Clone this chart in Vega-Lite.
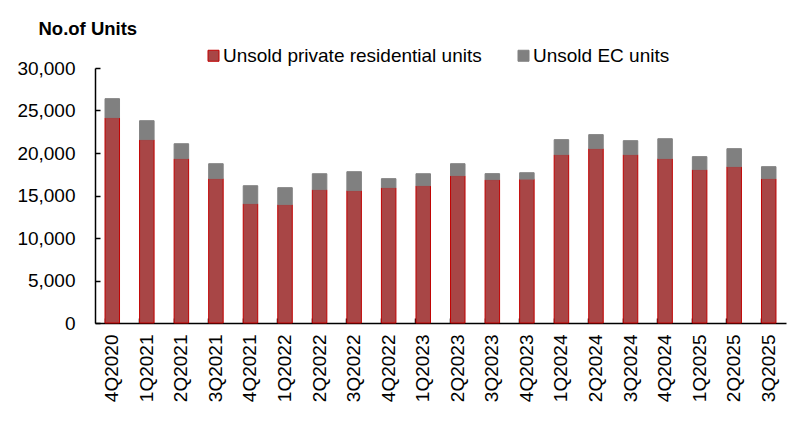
{
  "$schema": "https://vega.github.io/schema/vega-lite/v6.json",
  "width": 691,
  "height": 255,
  "autosize": "none",
  "padding": {"left": 95, "top": 68, "right": 19, "bottom": 106},
  "background": "white",
  "config": {
    "view": {"stroke": null},
    "font": "Liberation Sans",
    "axis": {"labelFont": "Liberation Sans", "titleFont": "Liberation Sans", "labelColor": "black", "domainColor": "black", "tickColor": "black", "grid": false}
  },
  "data": {
    "values": [
      {"quarter": "4Q2020", "series": "Unsold private residential units", "units": 24150},
      {"quarter": "4Q2020", "series": "Unsold EC units", "units": 2240},
      {"quarter": "1Q2021", "series": "Unsold private residential units", "units": 21560},
      {"quarter": "1Q2021", "series": "Unsold EC units", "units": 2240},
      {"quarter": "2Q2021", "series": "Unsold private residential units", "units": 19330},
      {"quarter": "2Q2021", "series": "Unsold EC units", "units": 1760},
      {"quarter": "3Q2021", "series": "Unsold private residential units", "units": 16980},
      {"quarter": "3Q2021", "series": "Unsold EC units", "units": 1760},
      {"quarter": "4Q2021", "series": "Unsold private residential units", "units": 14030},
      {"quarter": "4Q2021", "series": "Unsold EC units", "units": 2120},
      {"quarter": "1Q2022", "series": "Unsold private residential units", "units": 13920},
      {"quarter": "1Q2022", "series": "Unsold EC units", "units": 2000},
      {"quarter": "2Q2022", "series": "Unsold private residential units", "units": 15680},
      {"quarter": "2Q2022", "series": "Unsold EC units", "units": 1880},
      {"quarter": "3Q2022", "series": "Unsold private residential units", "units": 15570},
      {"quarter": "3Q2022", "series": "Unsold EC units", "units": 2230},
      {"quarter": "4Q2022", "series": "Unsold private residential units", "units": 15920},
      {"quarter": "4Q2022", "series": "Unsold EC units", "units": 1060},
      {"quarter": "1Q2023", "series": "Unsold private residential units", "units": 16150},
      {"quarter": "1Q2023", "series": "Unsold EC units", "units": 1410},
      {"quarter": "2Q2023", "series": "Unsold private residential units", "units": 17330},
      {"quarter": "2Q2023", "series": "Unsold EC units", "units": 1410},
      {"quarter": "3Q2023", "series": "Unsold private residential units", "units": 16860},
      {"quarter": "3Q2023", "series": "Unsold EC units", "units": 710},
      {"quarter": "4Q2023", "series": "Unsold private residential units", "units": 16920},
      {"quarter": "4Q2023", "series": "Unsold EC units", "units": 760},
      {"quarter": "1Q2024", "series": "Unsold private residential units", "units": 19800},
      {"quarter": "1Q2024", "series": "Unsold EC units", "units": 1770},
      {"quarter": "2Q2024", "series": "Unsold private residential units", "units": 20510},
      {"quarter": "2Q2024", "series": "Unsold EC units", "units": 1650},
      {"quarter": "3Q2024", "series": "Unsold private residential units", "units": 19800},
      {"quarter": "3Q2024", "series": "Unsold EC units", "units": 1650},
      {"quarter": "4Q2024", "series": "Unsold private residential units", "units": 19330},
      {"quarter": "4Q2024", "series": "Unsold EC units", "units": 2350},
      {"quarter": "1Q2025", "series": "Unsold private residential units", "units": 18040},
      {"quarter": "1Q2025", "series": "Unsold EC units", "units": 1530},
      {"quarter": "2Q2025", "series": "Unsold private residential units", "units": 18390},
      {"quarter": "2Q2025", "series": "Unsold EC units", "units": 2120},
      {"quarter": "3Q2025", "series": "Unsold private residential units", "units": 16980},
      {"quarter": "3Q2025", "series": "Unsold EC units", "units": 1410}
    ]
  },
  "mark": {"type": "bar", "strokeWidth": 1},
  "encoding": {
    "x": {
      "field": "quarter",
      "type": "ordinal",
      "sort": null,
      "scale": {"paddingInner": 0.58, "paddingOuter": 0.29},
      "axis": {
        "title": null,
        "labelAngle": -90,
        "labelAlign": "right",
        "labelBaseline": "middle",
        "labelFontSize": 19,
        "labelPadding": 16,
        "tickSize": -5,
        "bandPosition": 0,
        "domainWidth": 1.5,
        "tickWidth": 1.5
      }
    },
    "y": {
      "field": "units",
      "type": "quantitative",
      "stack": "zero",
      "scale": {"domain": [0, 30000], "nice": false},
      "axis": {
        "title": "No.of Units",
        "titleAngle": 0,
        "titleAlign": "left",
        "titleBaseline": "alphabetic",
        "titleX": -57,
        "titleY": -34,
        "titleFontSize": 18.5,
        "titleFontWeight": "bold",
        "titleColor": "black",
        "values": [0, 5000, 10000, 15000, 20000, 25000, 30000],
        "format": ",.0f",
        "labelFontSize": 19,
        "labelPadding": 25,
        "tickSize": -5,
        "domainWidth": 1.5,
        "tickWidth": 1.5
      }
    },
    "fill": {
      "field": "series",
      "type": "nominal",
      "scale": {"domain": ["Unsold private residential units", "Unsold EC units"], "range": ["#A84646", "#808080"]},
      "legend": {
        "title": null,
        "orient": "none",
        "direction": "horizontal",
        "legendX": 109,
        "legendY": -22,
        "symbolType": "square",
        "symbolSize": 121,
        "symbolStrokeWidth": 1,
        "labelFontSize": 19,
        "labelFont": "Liberation Sans",
        "labelColor": "black",
        "labelLimit": 500,
        "labelOffset": 0,
        "columnPadding": 32
      }
    },
    "stroke": {
      "field": "series",
      "type": "nominal",
      "scale": {"domain": ["Unsold private residential units", "Unsold EC units"], "range": ["#C00000", "#808080"]},
      "legend": {
        "title": null,
        "orient": "none",
        "direction": "horizontal",
        "legendX": 109,
        "legendY": -22,
        "symbolType": "square",
        "symbolSize": 121,
        "symbolStrokeWidth": 1,
        "labelFontSize": 19,
        "labelFont": "Liberation Sans",
        "labelColor": "black",
        "labelLimit": 500,
        "labelOffset": 0,
        "columnPadding": 32
      }
    },
    "order": {"field": "series", "sort": "descending"}
  }
}
